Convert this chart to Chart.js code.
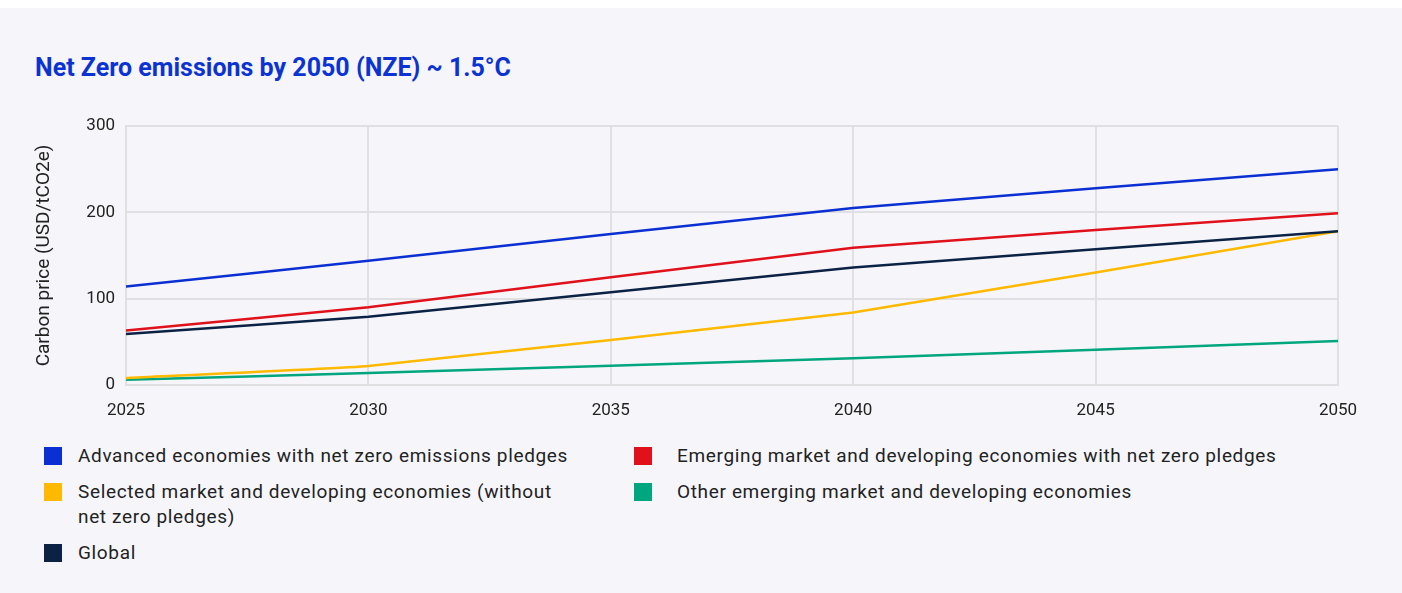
<!DOCTYPE html>
<html>
<head>
<meta charset="utf-8">
<script src="https://cdn.jsdelivr.net/npm/chart.js@4/dist/chart.umd.min.js"></script>
<style>
    html, body {
        margin: 0;
        padding: 0;
        background: #ffffff;
        font-family: Roboto, "Noto Sans", sans-serif;
    }
    .card {
        position: absolute;
        left: 0;
        top: 8px;
        width: 1402px;
        height: 585px;
        background: #f6f6fa;
    }
    .title {
        position: absolute;
        left: 35px;
        top: 52px;
        font-size: 25px;
        line-height: 32px;
        font-weight: 700;
        color: #0b33d4;
        white-space: nowrap;
    }
    .chart-box {
        position: absolute;
        left: 0;
        top: 100px;
        width: 1402px;
        height: 330px;
    }
    .legend {
        position: absolute;
        left: 44px;
        top: 443px;
        display: grid;
        grid-template-columns: 590px 720px;
        row-gap: 11px;
        font-size: 19px;
        letter-spacing: 0.65px;
        line-height: 25px;
        color: #222222;
    }
    .legend-item {
        display: flex;
        align-items: flex-start;
    }
    .legend-swatch {
        flex: none;
        width: 18px;
        height: 18px;
        margin-top: 4px;
    }
    .legend-text {
        white-space: normal;
    }
</style>
</head>
<body>
<div class="card"></div>
<div class="title">Net Zero emissions by 2050 (NZE) ~ 1.5°C</div>
<div class="chart-box"><canvas id="nzeChart"></canvas></div>
<div class="legend" id="legend"></div>

<script>
// years with a value, and the tick labels on the axes
const years = [2025, 2030, 2040, 2050];
const yearTicks = [2025, 2030, 2035, 2040, 2045, 2050];
const priceTicks = [0, 100, 200, 300];

// carbon price, USD/tCO2e
const advanced = [114, 144, 205, 250];
const emergingPledges = [63, 90, 159, 199];
const selectedNoPledges = [8, 22, 84, 178];
const otherEmerging = [6, 14, 31, 51];
const globalPrice = [59, 79, 136, 178];

const seriesLabels = [
    "Advanced economies with net zero emissions pledges",
    "Emerging market and developing economies with net zero pledges",
    "Selected market and developing economies (without net zero pledges)",
    "Other emerging market and developing economies",
    "Global"
];
const seriesColors = ["#0a2fd2", "#e0111b", "#ffb900", "#00a67e", "#0b2244"];

const NZEChart = {

    chart: null,

    init() {
        const values = [advanced, emergingPledges, selectedNoPledges, otherEmerging, globalPrice];

        const datasets = values.map((vals, i) => ({
            label: seriesLabels[i],
            data: vals.map((v, k) => ({ x: years[k], y: v })),
            borderColor: seriesColors[i],
            backgroundColor: seriesColors[i],
            borderWidth: 2.5,
            pointRadius: 0,
            tension: 0.1,
            fill: false,
            // global line sits on top where it meets the yellow one
            order: i === 4 ? 0 : 1
        }));

        this.createChart(datasets);
        this.buildLegend();
    },

    createChart(datasets) {
        const ctx = document.getElementById("nzeChart");
        if (!ctx) return;

        const gridColor = "#e0e0e2";
        const tickFont = { family: "Roboto", size: 17 };

        this.chart = new Chart(ctx, {
            type: "line",
            data: { datasets: datasets },
            options: {
                responsive: true,
                maintainAspectRatio: false,
                animation: false,
                layout: {
                    padding: { left: 30, right: 64, top: 26, bottom: 5 }
                },
                plugins: {
                    legend: { display: false },
                    tooltip: { enabled: false }
                },
                scales: {
                    x: {
                        type: "linear",
                        min: years[0],
                        max: years[years.length - 1],
                        afterBuildTicks: scale => {
                            scale.ticks = yearTicks.map(v => ({ value: v }));
                        },
                        afterFit: scale => { scale.height = 40; },
                        grid: { color: gridColor, lineWidth: 2, drawTicks: false },
                        border: { display: true, color: gridColor, width: 2 },
                        ticks: {
                            color: "#222222",
                            font: tickFont,
                            padding: 16,
                            maxRotation: 0,
                            callback: v => String(v)
                        }
                    },
                    y: {
                        min: 0,
                        max: 300,
                        afterBuildTicks: scale => {
                            scale.ticks = priceTicks.map(v => ({ value: v }));
                        },
                        afterFit: scale => { scale.width = 96; },
                        grid: { color: gridColor, lineWidth: 2, drawTicks: false },
                        border: { display: true, color: gridColor, width: 2 },
                        ticks: {
                            color: "#222222",
                            font: tickFont,
                            padding: 11
                        },
                        title: {
                            display: true,
                            text: "Carbon price (USD/tCO2e)",
                            color: "#222222",
                            font: { family: "Roboto", size: 19 },
                            padding: { top: 3, bottom: 4 }
                        }
                    }
                }
            }
        });
    },

    buildLegend() {
        const box = document.getElementById("legend");
        if (!box) return;

        seriesLabels.forEach((label, i) => {
            const item = document.createElement("div");
            item.className = "legend-item";

            const swatch = document.createElement("span");
            swatch.className = "legend-swatch";
            swatch.style.background = seriesColors[i];
            // second column sits a little further from its swatch
            swatch.style.marginRight = (i % 2 === 1) ? "25px" : "16px";

            const text = document.createElement("span");
            text.className = "legend-text";
            text.textContent = label;
            // left column wraps the long label after "(without"
            if (i % 2 === 0) text.style.maxWidth = "505px";

            item.appendChild(swatch);
            item.appendChild(text);
            box.appendChild(item);
        });
    }
};

NZEChart.init();
</script>
</body>
</html>
